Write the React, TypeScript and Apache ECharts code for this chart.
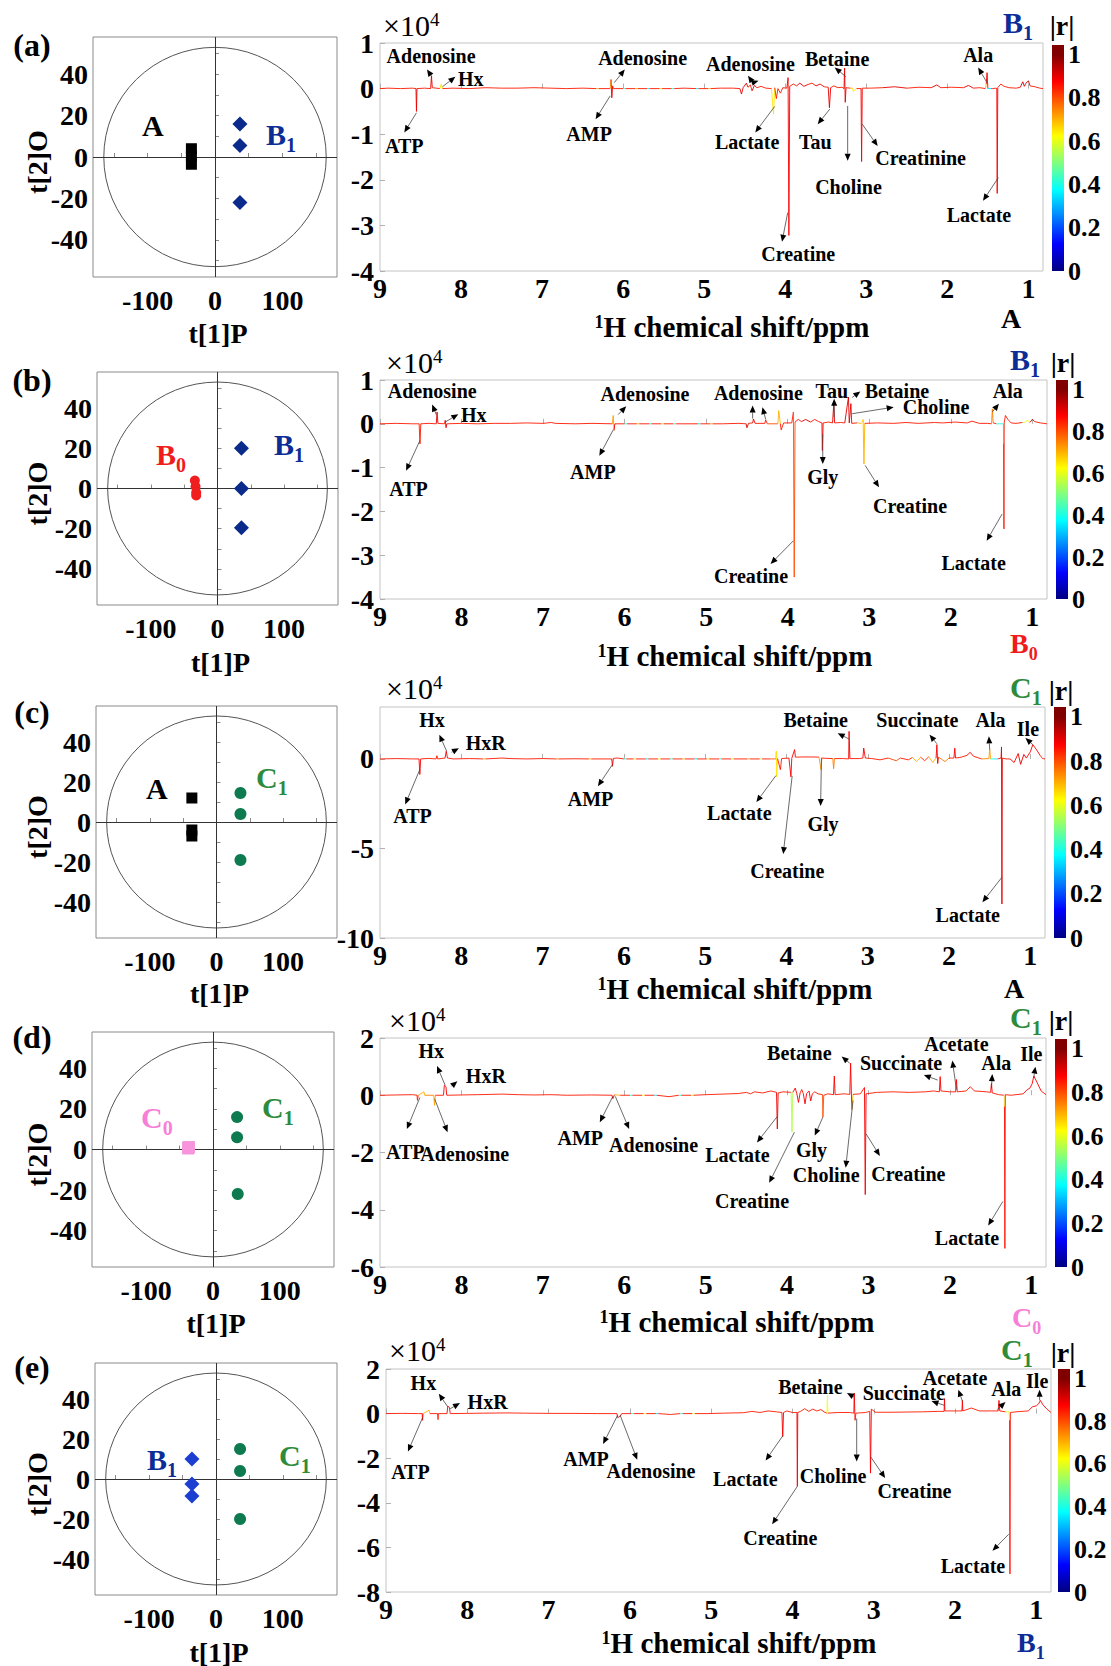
import React, { useEffect, useRef } from "react";
import * as echarts from "echarts";

const FONT = "'Liberation Serif', 'Times New Roman', Times, serif";

// ---------- colour map (jet) ----------
const JET_STOPS: [number, string][] = [
  [0, "#000080"], [0.125, "#0000ff"], [0.375, "#00ffff"], [0.625, "#ffff00"], [0.875, "#ff0000"], [1, "#800000"],
];
const CB_TICKS = [0, 0.2, 0.4, 0.6, 0.8, 1];
const CB_MAX = 1.045;

// ---------- score plots ----------
const SCORE_X = [-181, 181];
const SCORE_Y = [-58, 58];
const ELLIPSE_R = [165, 53];
const scoreXLabels = [-100, 0, 100];
const scoreXTicks = [-150, -100, -50, 0, 50, 100, 150];
const scoreYLabels = [-40, -20, 0, 20, 40];
const scoreYTicks = [-50, -40, -30, -20, -10, 0, 10, 20, 30, 40, 50];

const scoreA_a = [[-35, 4], [-35, 0.5], [-35, -3.5]];
const scoreB1_a = [[37, 16], [37, 5.5], [37, -22]];
const scoreB0_b = [[-34, 4], [-33, 1], [-32, -2], [-32, -3.5]];
const scoreB1_b = [[36, 20], [36, 0], [36, -19.5]];
const scoreA_c = [[-37, 12], [-37, -4], [-37, -7]];
const scoreC1_c = [[36, 14.5], [36, 4], [36, -19]];
const scoreC0_d = [[-37, 1], [-37, 0.5], [-36, 1.2]];
const scoreC1_d = [[36, 16], [36, 6], [37, -22]];
const scoreB1_e = [[-36, 10], [-36, -2.5], [-36, -8.5]];
const scoreC1_e = [[36, 15], [36, 4], [36, -20]];

// ---------- loading plots ----------
const LOAD_X = [0.82, 9];
const loadXTicks = [9, 8, 7, 6, 5, 4, 3, 2, 1];
const loadYRangeA = [-4, 1];
const loadYRangeB = [-4, 1];
const loadYRangeC = [-10, 2.9];
const loadYRangeD = [-6, 2];
const loadYRangeE = [-8, 2];
const loadYTicksA = [1, 0, -1, -2, -3, -4];
const loadYTicksB = [1, 0, -1, -2, -3, -4];
const loadYTicksC = [0, -5, -10];
const loadYTicksD = [2, 0, -2, -4, -6];
const loadYTicksE = [2, 0, -2, -4, -6, -8];

// [ppm, loading (x10^4), |r|]
const spectrumA = [
  [9.0, 0, .85], [8.9, 0.01, .85], [8.75, 0, .85], [8.6, 0.01, .85],
  [8.556, 0, .85], [8.55, -0.5, .9], [8.544, 0, .85],
  [8.45, 0.01, .85], [8.375, 0, .85], [8.365, 0.28, .9], [8.355, 0.02, .85],
  [8.26, 0, .8], [8.245, 0.1, .65], [8.23, 0, .8],
  [8.1, 0.01, .85], [7.9, 0, .85], [7.7, 0.02, .85], [7.5, 0.01, .85], [7.3, 0.01, .85], [7.1, 0.02, .85], [6.9, 0.01, .85], [6.7, 0, .85], [6.5, 0.01, .85], [6.33, 0, .85], [6.3, 0, .7],
  [6.16, 0, .85], [6.15, 0.2, .7], [6.14, -0.2, .9], [6.13, 0.06, .85], [6.12, 0, .85],
  [6.0, 0, .85], [5.97, 0, .4], [5.85, 0, .85], [5.82, 0, .7], [5.7, 0, .85], [5.67, 0, .35], [5.55, 0, .85], [5.52, 0, .65], [5.4, 0, .85], [5.37, 0, .4],
  [5.25, 0.01, .85], [5.1, 0, .85], [5.07, 0, .35], [4.95, 0, .85], [4.92, 0, .7], [4.8, 0.01, .85], [4.65, 0.01, .85],
  [4.56, 0, .85], [4.54, -0.12, .9], [4.52, 0.02, .85], [4.48, 0.12, .9], [4.46, 0.03, .85], [4.43, 0.08, .85], [4.41, -0.05, .85], [4.38, 0.07, .9], [4.35, 0.02, .85], [4.3, 0.05, .85], [4.24, 0.01, .85],
  [4.17, 0, .8], [4.145, -0.56, .65], [4.13, 0.02, .8], [4.11, -0.22, .85], [4.09, 0, .8], [4.06, -0.1, .85], [4.03, 0.02, .85], [3.98, 0.01, .85],
  [3.965, 0.24, .9], [3.955, -3.22, .88], [3.945, 0.05, .85],
  [3.9, 0.1, .85], [3.86, 0.06, .85], [3.82, 0.12, .9], [3.77, 0.05, .85], [3.72, 0.09, .9], [3.67, 0.12, .85], [3.62, 0.06, .85], [3.57, 0.1, .9], [3.52, 0.04, .85],
  [3.47, 0.03, .85], [3.455, -0.42, .9], [3.44, 0.02, .85], [3.4, 0.06, .85], [3.35, 0.02, .75], [3.3, 0.03, .85],
  [3.275, 0, .85], [3.268, 0.45, .9], [3.26, -0.3, .9], [3.25, 0.02, .85], [3.2, 0.01, .85], [3.17, 0.01, .7], [3.16, -0.06, .65], [3.12, 0, .85],
  [3.065, 0, .85], [3.058, -1.6, .88], [3.05, 0.01, .85],
  [2.95, 0.01, .85], [2.8, 0.02, .85], [2.65, 0.04, .9], [2.5, 0.01, .85], [2.35, 0.03, .85], [2.2, 0.02, .85], [2.13, 0.08, .9], [2.08, 0.02, .85], [1.95, 0.03, .85], [1.8, 0.02, .85], [1.74, 0.07, .9], [1.68, 0.01, .85], [1.6, 0.02, .85],
  [1.53, 0, .85], [1.52, 0.1, .7], [1.51, 0.35, .88], [1.5, 0, .5], [1.46, 0, .35], [1.44, 0, .85], [1.4, 0.01, .85],
  [1.39, 0, .85], [1.385, -2.3, .88], [1.378, 0.02, .85], [1.34, 0.1, .85], [1.3, 0.05, .85], [1.24, 0.02, .85], [1.15, 0.01, .85],
  [1.1, 0.03, .85], [1.07, 0.15, .92], [1.05, 0.05, .85], [1.03, 0.12, .9], [1.0, 0.17, .92], [0.98, 0.06, .85], [0.92, 0.04, .85], [0.86, 0.01, .85], [0.82, 0, .85],
];

const spectrumB = [
  [9.0, 0, .85], [8.8, 0.01, .85], [8.6, 0, .85],
  [8.52, 0, .85], [8.51, -0.46, .85], [8.5, 0, .85],
  [8.4, 0.01, .85], [8.31, 0, .85], [8.3, 0.27, .9], [8.29, 0.01, .85],
  [8.21, 0, .85], [8.2, 0.08, .85], [8.19, -0.09, .9], [8.18, 0, .85],
  [8.0, 0.01, .85], [7.8, 0, .85], [7.6, 0.01, .85], [7.4, 0.01, .85], [7.2, 0.02, .85], [7.0, 0.01, .85], [6.9, 0.03, .85], [6.85, 0.01, .85], [6.6, 0, .85], [6.4, 0.01, .85],
  [6.15, 0, .85], [6.14, 0.19, .72], [6.13, -0.15, .9], [6.12, 0, .85],
  [6.0, 0, .85], [5.97, 0, .4], [5.85, 0, .85], [5.82, 0, .7], [5.7, 0, .85], [5.67, 0, .35], [5.55, 0, .85], [5.52, 0, .65], [5.4, 0, .85], [5.37, 0, .4],
  [5.25, 0, .85], [5.1, 0, .85], [5.07, 0, .35], [4.95, 0, .85], [4.92, 0, .7], [4.8, 0, .85], [4.6, 0.01, .85],
  [4.51, 0, .85], [4.5, -0.09, .9], [4.48, 0.01, .85], [4.43, 0.02, .85], [4.42, 0.11, .9], [4.4, 0.01, .85], [4.28, 0.01, .85], [4.27, 0.09, .85], [4.25, 0, .85],
  [4.12, 0, .8], [4.11, 0.3, .7], [4.09, 0, .8], [4.08, -0.14, .85], [4.05, 0.02, .85], [3.95, 0.02, .85],
  [3.93, 0.27, .85], [3.92, -3.5, .8], [3.91, 0.04, .85],
  [3.87, 0.1, .85], [3.83, 0.05, .85], [3.78, 0.1, .9], [3.72, 0.04, .85], [3.67, 0.1, .85], [3.62, 0.05, .85], [3.58, 0.02, .85],
  [3.575, -0.61, .88], [3.565, 0.02, .85], [3.5, 0.04, .85], [3.45, 0.02, .85],
  [3.435, 0.46, .9], [3.425, 0.02, .85], [3.35, 0.03, .85], [3.3, 0.02, .85],
  [3.255, 0.61, .9], [3.245, 0.02, .85], [3.225, 0.46, .9], [3.215, 0.01, .85], [3.15, 0.02, .85], [3.13, 0.02, .7], [3.1, 0, .85],
  [3.075, 0.1, .65], [3.065, -0.92, .7], [3.055, 0.01, .85],
  [2.9, 0.02, .85], [2.7, 0.01, .85], [2.55, 0.03, .85], [2.4, 0.01, .85], [2.2, 0.03, .85], [2.1, 0.02, .85], [1.95, 0.04, .85], [1.8, 0.02, .85], [1.74, 0.06, .85], [1.65, 0.01, .85], [1.55, 0.01, .85],
  [1.5, 0, .85], [1.49, 0.34, .75], [1.48, 0.02, .85], [1.44, 0, .85], [1.4, 0, .4],
  [1.355, 0, .4], [1.352, -0.45, .4], [1.348, -2.4, .85], [1.345, 0.02, .85], [1.33, 0.19, .85], [1.3, 0.1, .85], [1.26, 0.02, .85], [1.2, 0.01, .85],
  [1.12, 0.03, .85], [1.1, 0.03, .55], [1.06, 0.08, .6], [1.03, 0.03, .85], [1.0, 0.1, .9], [0.97, 0.05, .85], [0.9, 0.02, .85], [0.82, 0, .85],
];

const spectrumC = [
  [9.0, 0, .85], [8.8, 0.02, .85], [8.6, 0, .85],
  [8.52, 0, .85], [8.51, -0.87, .88], [8.5, 0, .85],
  [8.4, 0.03, .85], [8.31, 0, .85], [8.3, 0.18, .85], [8.29, 0, .85],
  [8.2, 0.05, .85], [8.185, 0.43, .88], [8.17, 0.05, .85], [8.1, 0, .85],
  [7.9, 0.02, .85], [7.73, 0, .85], [7.7, 0, .7], [7.5, 0.05, .85], [7.4, 0.02, .85], [7.2, 0, .85], [7.0, 0.02, .85], [6.83, 0, .85], [6.8, 0, .75], [6.6, 0.01, .85], [6.43, 0, .85], [6.4, 0, .7],
  [6.15, 0, .85], [6.14, -0.41, .9], [6.13, 0.03, .85], [6.08, 0.05, .85],
  [6.0, 0, .85], [5.97, 0, .4], [5.88, 0, .85], [5.85, 0, .65], [5.73, 0, .85], [5.7, 0, .35], [5.58, 0, .85], [5.55, 0, .6], [5.43, 0, .85], [5.4, 0, .4],
  [5.28, 0, .85], [5.25, 0, .7], [5.13, 0, .85], [5.1, 0, .35], [4.98, 0, .85], [4.95, 0, .65], [4.83, 0, .85], [4.8, 0, .4], [4.68, 0, .85], [4.65, 0, .6],
  [4.48, 0, .85], [4.45, 0, .7], [4.33, 0, .85], [4.3, 0, .55], [4.2, 0, .85],
  [4.13, 0, .8], [4.125, 0.43, .7], [4.12, -1.0, .65], [4.11, 0.02, .8], [4.075, -0.6, .85], [4.06, 0.02, .85], [3.97, 0.05, .85],
  [3.945, -1.0, .88], [3.935, 0.03, .85], [3.9, 0.52, .88], [3.89, 0.1, .85],
  [3.8, 0.11, .85], [3.7, 0.11, .85], [3.6, 0.1, .85],
  [3.575, -0.6, .72], [3.565, 0.05, .85], [3.5, 0.03, .85], [3.43, 0.02, .85], [3.42, -0.55, .75], [3.41, 0.02, .85], [3.3, 0.02, .85],
  [3.235, 0, .85], [3.23, 1.54, .88], [3.22, 0.02, .85], [3.1, 0.02, .85],
  [3.06, 0.05, .85], [3.05, 0.61, .88], [3.03, 0.05, .85], [2.95, 0.02, .85],
  [2.85, -0.05, .85], [2.75, 0.05, .85], [2.65, -0.1, .8], [2.6, 0.05, .85], [2.5, -0.05, .85], [2.45, 0.08, .85], [2.4, -0.15, .7], [2.35, 0.1, .85], [2.3, -0.1, .85], [2.25, 0.12, .85], [2.2, -0.2, .7],
  [2.16, 0.05, .85], [2.15, 0.8, .88], [2.14, -0.26, .88], [2.13, 0.1, .85], [2.05, -0.15, .75], [2.0, 0.05, .85],
  [1.94, 0.05, .85], [1.93, 0.6, .88], [1.92, 0.05, .85], [1.85, 0.1, .85], [1.78, 0.2, .85], [1.74, 0.37, .88], [1.7, 0.15, .85], [1.6, 0, .85],
  [1.51, 0.02, .75], [1.5, 0.55, .72], [1.49, 0, .75], [1.45, 0, .4], [1.4, 0, .35],
  [1.36, 0.05, .85], [1.355, 0.67, .88], [1.35, -8.1, .9], [1.345, 0.05, .85], [1.3, 0, .4], [1.25, 0, .85],
  [1.2, -0.2, .88], [1.15, 0.3, .88], [1.12, -0.3, .9], [1.08, 0.25, .88], [1.05, 0.05, .9],
  [1.0, 0.4, .88], [0.97, 0.8, .88], [0.93, 0.55, .88], [0.88, 0.2, .85], [0.85, 0.02, .85], [0.82, 0, .85],
];

const spectrumD = [
  [9.0, 0, .85], [8.8, 0.01, .85], [8.6, 0.02, .85],
  [8.545, 0, .85], [8.54, -0.18, .85], [8.53, 0, .85], [8.46, 0.12, .7], [8.45, 0, .85],
  [8.34, 0, .75], [8.33, -0.35, .72], [8.32, 0, .85],
  [8.22, 0, .85], [8.21, 0.35, .88], [8.19, 0.3, .88], [8.18, 0, .85],
  [8.0, 0.01, .85], [7.8, 0.02, .85], [7.5, 0.04, .85], [7.3, 0.02, .85], [7.1, 0.01, .85], [6.9, 0.02, .85], [6.7, 0, .85], [6.4, 0.01, .85],
  [6.15, 0, .85], [6.14, -0.12, .88], [6.12, 0.02, .7], [6.05, 0, .85],
  [5.93, 0, .85], [5.9, 0, .4], [5.78, 0, .85], [5.75, 0, .6], [5.63, 0, .85], [5.6, 0, .35], [5.45, -0.05, .85], [5.33, 0, .85], [5.3, 0, .4], [5.18, 0, .85], [5.15, 0, .65],
  [5.0, 0.02, .85], [4.8, 0.04, .85], [4.6, 0.06, .85],
  [4.5, 0.1, .85], [4.45, 0.05, .85], [4.4, 0.12, .85], [4.3, 0.08, .85], [4.2, 0.15, .85],
  [4.13, 0.1, .85], [4.12, -1.18, .88], [4.11, 0.08, .85], [4.05, 0.12, .85],
  [3.95, 0.1, .6], [3.94, -1.29, .55], [3.93, 0.1, .85],
  [3.9, 0.25, .88], [3.88, 0.05, .85], [3.86, -0.25, .88], [3.84, 0.08, .85], [3.82, 0.2, .85], [3.8, 0.05, .85], [3.78, -0.3, .88], [3.76, 0.06, .85],
  [3.73, 0.15, .85], [3.71, -0.2, .88], [3.69, 0.05, .85], [3.66, 0.12, .85], [3.62, 0.05, .85],
  [3.565, 0.02, .85], [3.56, -0.76, .8], [3.55, 0, .85], [3.5, 0.05, .85],
  [3.43, 0.02, .85], [3.42, 0.67, .88], [3.41, 0.02, .85], [3.3, 0.05, .85],
  [3.23, 0.03, .85], [3.22, 1.12, .88], [3.205, -0.5, .7], [3.19, 0.03, .85], [3.1, 0.05, .85],
  [3.05, 0.27, .85], [3.04, -3.47, .88], [3.03, 0.05, .85],
  [2.9, 0.1, .85], [2.7, 0.12, .85], [2.5, 0.1, .85], [2.3, 0.12, .85], [2.2, 0.15, .85],
  [2.13, 0.12, .85], [2.12, 0.65, .88], [2.11, 0.15, .85], [2.0, 0.12, .85],
  [1.93, 0.12, .85], [1.92, 0.55, .88], [1.91, 0.12, .85], [1.8, 0.15, .85], [1.75, 0.3, .85], [1.7, 0.15, .85], [1.55, 0.12, .85],
  [1.5, 0.1, .85], [1.49, 0.41, .88], [1.48, 0.08, .85], [1.4, 0.02, .85],
  [1.335, 0, .6], [1.33, -0.4, .6], [1.325, -5.35, .86], [1.32, 0.02, .85], [1.25, 0, .85], [1.1, 0.05, .85],
  [1.05, 0.2, .88], [1.02, 0.24, .88], [0.99, 0.4, .88], [0.97, 0.67, .88], [0.93, 0.45, .88], [0.88, 0.15, .85], [0.82, 0.02, .85],
];

const spectrumE = [
  [9.0, 0, .85], [8.8, 0.01, .85], [8.6, 0, .85],
  [8.555, 0, .85], [8.55, -0.3, .88], [8.545, 0, .85], [8.47, 0.15, .7], [8.46, 0, .85],
  [8.365, 0, .85], [8.36, -0.27, .85], [8.355, 0, .85],
  [8.25, 0, .85], [8.24, 0.33, .88], [8.22, 0.28, .88], [8.21, 0, .85],
  [8.0, 0.01, .85], [7.8, 0.02, .85], [7.5, 0.03, .85], [7.3, 0.02, .85], [7.0, 0.01, .85], [6.7, 0.01, .85], [6.4, 0, .85],
  [6.16, 0, .85], [6.15, -0.18, .88], [6.12, -0.12, .88], [6.1, 0, .85],
  [5.98, 0, .85], [5.95, 0, .4], [5.83, 0, .85], [5.8, 0, .6], [5.68, 0, .85], [5.65, 0, .35], [5.5, -0.04, .85], [5.38, 0, .85], [5.35, 0, .4], [5.23, 0, .85], [5.2, 0, .6],
  [5.05, 0, .85], [4.85, 0.02, .85], [4.6, 0.04, .85],
  [4.5, 0.1, .85], [4.4, 0.05, .85], [4.3, 0.12, .85], [4.2, 0.08, .85],
  [4.13, 0.05, .85], [4.12, -1.04, .88], [4.11, 0.05, .85], [4.07, 0.12, .85], [4.0, 0.05, .85],
  [3.945, 0.05, .85], [3.94, -3.26, .88], [3.935, 0.05, .85],
  [3.9, 0.1, .85], [3.85, 0.22, .85], [3.8, 0.1, .85], [3.75, 0.2, .85], [3.7, 0.12, .85], [3.65, 0.18, .85], [3.6, 0.05, .85],
  [3.575, 0.02, .65], [3.57, 0.81, .62], [3.565, 0.02, .65], [3.45, 0.05, .85], [3.3, 0.05, .85],
  [3.245, 0.02, .85], [3.24, 0.92, .88], [3.23, -0.3, .85], [3.22, 0.02, .85], [3.1, 0.05, .85],
  [3.05, 0.1, .85], [3.04, -2.67, .88], [3.03, 0.2, .85], [2.98, 0.06, .85],
  [2.8, 0.06, .85], [2.6, 0.07, .85], [2.4, 0.08, .85], [2.2, 0.1, .85],
  [2.135, 0.1, .85], [2.13, 0.67, .88], [2.125, 0.12, .85], [2.0, 0.12, .85],
  [1.915, 0.12, .85], [1.91, 0.59, .88], [1.905, 0.12, .85], [1.8, 0.25, .85], [1.7, 0.12, .85], [1.55, 0.12, .85],
  [1.47, 0.12, .85], [1.46, 0.59, .88], [1.45, 0.12, .85], [1.38, 0.08, .85],
  [1.335, 0.08, .6], [1.33, -0.3, .6], [1.325, -7.19, .86], [1.32, 0.05, .85], [1.25, 0.08, .85], [1.1, 0.12, .85],
  [1.05, 0.3, .88], [1.0, 0.35, .88], [0.97, 0.45, .88], [0.95, 0.59, .88], [0.92, 0.4, .88], [0.87, 0.2, .85], [0.82, 0.05, .85],
];

// annotations: [text, labelPpm, labelVal, arrowFromPpm, arrowFromVal, arrowToPpm, arrowToVal]
const annotationsA = [
  ["Adenosine", 8.37, 0.72, 8.36, 0.26, 8.42, 0.42],
  ["Hx", 7.88, 0.2, 8.23, 0.04, 8.07, 0.26],
  ["ATP", 8.70, -1.26, 8.55, -0.53, 8.70, -0.96],
  ["Adenosine", 5.76, 0.68, 6.11, 0.13, 5.98, 0.42],
  ["AMP", 6.42, -1.0, 6.16, -0.16, 6.34, -0.67],
  ["Adenosine", 4.43, 0.55, 4.40, 0.13, 4.46, 0.28],
  ["", 0, 0, 4.40, 0.13, 4.33, 0.17],
  ["Betaine", 3.36, 0.66, 3.25, 0.26, 3.39, 0.46],
  ["Ala", 1.62, 0.73, 1.51, 0.13, 1.62, 0.46],
  ["Lactate", 4.47, -1.18, 4.13, -0.39, 4.37, -0.96],
  ["Tau", 3.63, -1.18, 3.45, -0.45, 3.60, -0.78],
  ["Creatinine", 2.33, -1.53, 3.05, -0.78, 2.86, -1.26],
  ["Choline", 3.22, -2.15, 3.23, -0.38, 3.23, -1.58],
  ["Creatine", 3.84, -3.63, 3.97, -2.72, 4.04, -3.36],
  ["Lactate", 1.61, -2.77, 1.37, -1.95, 1.56, -2.46],
];
const annotationsB = [
  ["Adenosine", 8.36, 0.74, 8.31, 0.21, 8.36, 0.44],
  ["Hx", 7.85, 0.2, 8.2, 0.04, 8.04, 0.22],
  ["ATP", 8.65, -1.49, 8.51, -0.38, 8.68, -1.07],
  ["Adenosine", 5.75, 0.69, 6.08, 0.21, 5.98, 0.40],
  ["AMP", 6.39, -1.11, 6.14, -0.14, 6.31, -0.73],
  ["Adenosine", 4.36, 0.70, 4.43, 0.12, 4.43, 0.42],
  ["", 0, 0, 4.27, 0.1, 4.31, 0.38],
  ["Tau", 3.46, 0.76, 3.43, 0.15, 3.43, 0.57],
  ["Betaine", 2.66, 0.76, 3.21, 0.6, 3.11, 0.74],
  ["Choline", 2.18, 0.38, 3.21, 0.23, 2.70, 0.38],
  ["Ala", 1.30, 0.76, 1.49, 0.27, 1.41, 0.46],
  ["Gly", 3.57, -1.22, 3.57, -0.23, 3.57, -0.92],
  ["Creatine", 2.50, -1.87, 3.05, -0.95, 2.88, -1.45],
  ["Creatine", 4.45, -3.47, 3.93, -2.67, 4.21, -3.2],
  ["Lactate", 1.72, -3.17, 1.37, -2.06, 1.56, -2.67],
];
const annotationsC = [
  ["Hx", 8.36, 2.19, 8.18, 0.43, 8.27, 1.35],
  ["HxR", 7.7, 0.89, 8.12, 0.37, 8.03, 0.6],
  ["ATP", 8.6, -3.19, 8.51, -0.59, 8.69, -2.54],
  ["AMP", 6.41, -2.26, 6.14, -0.31, 6.32, -1.52],
  ["Lactate", 4.58, -3.0, 4.13, -0.93, 4.37, -2.41],
  ["Creatine", 3.99, -6.24, 3.93, -0.96, 4.04, -5.31],
  ["Gly", 3.55, -3.65, 3.57, 0.06, 3.58, -2.63],
  ["Betaine", 3.64, 2.19, 3.23, 1.11, 3.37, 1.44],
  ["Succinate", 2.39, 2.19, 2.15, 0.85, 2.24, 1.35],
  ["Ala", 1.49, 2.19, 1.50, 0.52, 1.51, 1.26],
  ["Ile", 1.03, 1.67, 0.97, 0.8, 1.06, 1.17],
  ["Lactate", 1.77, -8.74, 1.35, -6.61, 1.59, -8.0],
];
const annotationsD = [
  ["Hx", 8.37, 1.53, 8.2, 0.35, 8.3, 1.02],
  ["HxR", 7.7, 0.67, 8.12, 0.32, 8.05, 0.49],
  ["ATP", 8.69, -1.98, 8.51, -0.08, 8.67, -1.18],
  ["Adenosine", 7.96, -2.04, 8.33, -0.12, 8.17, -1.29],
  ["AMP", 6.54, -1.49, 6.14, -0.04, 6.30, -0.94],
  ["Adenosine", 5.64, -1.73, 6.11, -0.04, 5.94, -1.18],
  ["Lactate", 4.61, -2.08, 4.12, -0.74, 4.37, -1.65],
  ["Creatine", 4.43, -3.68, 3.91, -1.29, 4.22, -3.06],
  ["Gly", 3.70, -1.92, 3.56, -0.76, 3.66, -1.41],
  ["Choline", 3.52, -2.79, 3.19, -0.18, 3.28, -2.53],
  ["Creatine", 2.51, -2.76, 3.03, -1.35, 2.86, -2.12],
  ["Betaine", 3.85, 1.49, 3.23, 1.12, 3.33, 1.35],
  ["Succinate", 2.60, 1.12, 2.15, 0.53, 2.32, 0.71],
  ["Acetate", 1.92, 1.8, 1.92, 0.2, 1.97, 1.21],
  ["Ala", 1.43, 1.14, 1.49, 0.24, 1.48, 0.74],
  ["Ile", 1.0, 1.45, 0.97, 0.62, 0.95, 1.0],
  ["Lactate", 1.79, -5.0, 1.35, -3.71, 1.53, -4.55],
];
const annotationsE = [
  ["Hx", 8.54, 1.36, 8.24, 0.30, 8.35, 0.89],
  ["HxR", 7.75, 0.52, 8.21, 0.22, 8.09, 0.47],
  ["ATP", 8.70, -2.64, 8.55, -0.18, 8.73, -1.70],
  ["AMP", 6.54, -2.04, 6.15, -0.07, 6.33, -1.36],
  ["Adenosine", 5.74, -2.59, 6.12, -0.07, 5.91, -2.07],
  ["Lactate", 4.58, -2.93, 4.12, -1.0, 4.33, -2.1],
  ["Creatine", 4.15, -5.6, 3.94, -3.26, 4.25, -4.96],
  ["Choline", 3.5, -2.79, 3.21, -0.22, 3.21, -2.15],
  ["Creatine", 2.5, -3.48, 3.04, -1.93, 2.86, -2.89],
  ["Betaine", 3.78, 1.21, 3.24, 0.74, 3.33, 0.92],
  ["Succinate", 2.63, 0.92, 2.13, 0.37, 2.29, 0.56],
  ["Acetate", 2.0, 1.6, 1.91, 0.56, 1.96, 1.07],
  ["Ala", 1.37, 1.11, 1.48, 0.18, 1.38, 0.52],
  ["Ile", 0.99, 1.48, 0.96, 0.59, 0.96, 1.07],
  ["Lactate", 1.78, -6.84, 1.34, -5.41, 1.54, -6.15],
];

// ---------- styling ----------
const COL = { A: "#000000", B1: "#0c2c96", B0: "#f01c1c", C1: "#2e8b3c", C0: "#f77fd8" };
const MARK = { A: "#000000", B1: "#0a2a8c", B1e: "#1c3fd2", B0: "#f01e1e", C1: "#0d7a50", C0: "#f794dc" };

const ROWS = [
  {
    letter: "(a)", letterY: 45,
    score: { left: 93, top: 37, width: 244, height: 240 },
    load: { left: 380, top: 43, width: 663, height: 228 },
    cb: { left: 1052, top: 45, width: 12, height: 226 },
    groups: [
      { data: scoreA_a, symbol: "rect", size: 11, color: MARK.A },
      { data: scoreB1_a, symbol: "diamond", size: 15, color: MARK.B1 },
    ],
    scoreLabels: [[142, 125, "A", "", COL.A], [266, 137, "B", "1", COL.B1]],
    spectrum: spectrumA, ann: annotationsA, yRange: loadYRangeA, yTicks: loadYTicksA,
    x10: [383, 25], topLabel: [1003, 25, "B", "1", COL.B1], rX: 1062,
    bottomLabel: [1001, 318, "A", "", COL.A], ppmName: [732, 327], t1Y: 333,
  },
  {
    letter: "(b)", letterY: 380,
    score: { left: 97, top: 372, width: 241, height: 233 },
    load: { left: 380, top: 380, width: 667, height: 219 },
    cb: { left: 1056, top: 380, width: 12, height: 219 },
    groups: [
      { data: scoreB0_b, symbol: "circle", size: 10, color: MARK.B0 },
      { data: scoreB1_b, symbol: "diamond", size: 15, color: MARK.B1 },
    ],
    scoreLabels: [[156, 457, "B", "0", COL.B0], [274, 447, "B", "1", COL.B1]],
    spectrum: spectrumB, ann: annotationsB, yRange: loadYRangeB, yTicks: loadYTicksB,
    x10: [386, 362], topLabel: [1010, 362, "B", "1", COL.B1], rX: 1063,
    bottomLabel: [1010, 646, "B", "0", COL.B0], ppmName: [735, 656], t1Y: 662,
  },
  {
    letter: "(c)", letterY: 712,
    score: { left: 96, top: 706, width: 241, height: 232 },
    load: { left: 380, top: 707, width: 665, height: 231 },
    cb: { left: 1054, top: 707, width: 12, height: 231 },
    groups: [
      { data: scoreA_c, symbol: "rect", size: 11, color: MARK.A },
      { data: scoreC1_c, symbol: "circle", size: 12, color: MARK.C1 },
    ],
    scoreLabels: [[146, 788, "A", "", COL.A], [256, 780, "C", "1", COL.C1]],
    spectrum: spectrumC, ann: annotationsC, yRange: loadYRangeC, yTicks: loadYTicksC,
    x10: [386, 688], topLabel: [1010, 690, "C", "1", COL.C1], rX: 1061,
    bottomLabel: [1004, 988, "A", "", COL.A], ppmName: [735, 989], t1Y: 993,
  },
  {
    letter: "(d)", letterY: 1037,
    score: { left: 92, top: 1032, width: 242, height: 235 },
    load: { left: 380, top: 1038, width: 666, height: 229 },
    cb: { left: 1055, top: 1039, width: 12, height: 228 },
    groups: [
      { data: scoreC0_d, symbol: "rect", size: 12, color: MARK.C0 },
      { data: scoreC1_d, symbol: "circle", size: 12, color: MARK.C1 },
    ],
    scoreLabels: [[141, 1120, "C", "0", COL.C0], [262, 1110, "C", "1", COL.C1]],
    spectrum: spectrumD, ann: annotationsD, yRange: loadYRangeD, yTicks: loadYTicksD,
    x10: [389, 1020], topLabel: [1010, 1020, "C", "1", COL.C1], rX: 1061,
    bottomLabel: [1012, 1320, "C", "0", COL.C0], ppmName: [737, 1322], t1Y: 1323,
  },
  {
    letter: "(e)", letterY: 1367,
    score: { left: 95, top: 1363, width: 242, height: 232 },
    load: { left: 386, top: 1369, width: 665, height: 223 },
    cb: { left: 1058, top: 1369, width: 12, height: 223 },
    groups: [
      { data: scoreB1_e, symbol: "diamond", size: 15, color: MARK.B1e },
      { data: scoreC1_e, symbol: "circle", size: 12, color: MARK.C1 },
    ],
    scoreLabels: [[147, 1462, "B", "1", COL.B1], [279, 1458, "C", "1", COL.C1]],
    spectrum: spectrumE, ann: annotationsE, yRange: loadYRangeE, yTicks: loadYTicksE,
    x10: [389, 1350], topLabel: [1001, 1352, "C", "1", COL.C1], rX: 1063,
    bottomLabel: [1017, 1645, "B", "1", COL.B1], ppmName: [739, 1643], t1Y: 1652,
  },
];

// ---------- helpers ----------
function hexToRgb(h: string) {
  return [parseInt(h.slice(1, 3), 16), parseInt(h.slice(3, 5), 16), parseInt(h.slice(5, 7), 16)];
}
function jet(r: number): string {
  const s = JET_STOPS;
  if (r <= s[0][0]) return s[0][1];
  for (let i = 1; i < s.length; i++) {
    if (r <= s[i][0]) {
      const t = (r - s[i - 1][0]) / (s[i][0] - s[i - 1][0]);
      const a = hexToRgb(s[i - 1][1]);
      const b = hexToRgb(s[i][1]);
      const c = a.map((v, k) => Math.round(v + (b[k] - v) * t));
      return `rgb(${c[0]},${c[1]},${c[2]})`;
    }
  }
  return s[s.length - 1][1];
}
function toSegments(pts: number[][]) {
  const out: number[][] = [];
  for (let i = 0; i < pts.length - 1; i++) {
    const p = pts[i];
    const q = pts[i + 1];
    const r = Math.abs(q[1]) >= Math.abs(p[1]) ? q[2] : p[2];
    out.push([p[0], p[1], q[0], q[1], r]);
  }
  return out;
}

const boldLabel = (size: number) => ({
  fontFamily: FONT, fontWeight: "bold" as const, fontSize: size, color: "#000",
});

function subText(x: number, y: number, main: string, sub: string, color: string, size = 30) {
  if (!sub) return plainText(x, y, main, size, 0, "left", color);
  const ss = Math.round(size * 0.66);
  return {
    type: "text", x, y, silent: true,
    style: {
      text: `{m|${main}}{s|${sub}}`,
      rich: {
        m: { fontSize: size, fontWeight: "bold", fontFamily: FONT, fill: color, lineHeight: size + 6, verticalAlign: "top" },
        s: { fontSize: ss, fontWeight: "bold", fontFamily: FONT, fill: color, lineHeight: ss, verticalAlign: "bottom" },
      },
      align: "left", textAlign: "left", verticalAlign: "middle", textVerticalAlign: "middle",
    },
  };
}
function supText(x: number, y: number, pre: string, sup: string, post: string, size: number, align: string) {
  const ss = Math.round(size * 0.62);
  let t = "";
  if (pre) t += `{m|${pre}}`;
  t += `{p|${sup}}`;
  if (post) t += `{m|${post}}`;
  return {
    type: "text", x, y, silent: true,
    style: {
      text: t,
      rich: {
        m: { fontSize: size, fontWeight: pre ? "normal" : "bold", fontFamily: FONT, fill: "#000", lineHeight: size, verticalAlign: "bottom" },
        p: { fontSize: ss, fontWeight: pre ? "normal" : "bold", fontFamily: FONT, fill: "#000", lineHeight: ss, verticalAlign: "top" },
      },
      align, textAlign: align, verticalAlign: "middle", textVerticalAlign: "middle",
    },
  };
}
function plainText(x: number, y: number, text: string, size: number, rotation = 0, align = "center", color = "#000") {
  return {
    type: "text", x, y, rotation, silent: true,
    style: {
      text, fill: color, fontSize: size, fontWeight: "bold", fontFamily: FONT,
      align, textAlign: align, verticalAlign: "middle", textVerticalAlign: "middle",
    },
  };
}

function buildOption() {
  const grid: any[] = [];
  const xAxis: any[] = [];
  const yAxis: any[] = [];
  const series: any[] = [];
  const graphics: any[] = [];

  ROWS.forEach((row, i) => {
    const gS = i * 3, gL = i * 3 + 1, gC = i * 3 + 2;

    // ----- score plot -----
    grid.push({ ...row.score, show: true, borderColor: "#8a8a8a", borderWidth: 1, backgroundColor: "transparent" });
    xAxis.push({
      type: "value", gridIndex: gS, min: SCORE_X[0], max: SCORE_X[1],
      axisLine: { show: false }, splitLine: { show: false },
      axisTick: { show: true, inside: true, length: 4, customValues: scoreXTicks, lineStyle: { color: "#8a8a8a" } },
      axisLabel: { ...boldLabel(28), margin: 9, customValues: scoreXLabels },
    });
    yAxis.push({
      type: "value", gridIndex: gS, min: SCORE_Y[0], max: SCORE_Y[1],
      axisLine: { show: false }, splitLine: { show: false },
      axisTick: { show: true, inside: true, length: 4, customValues: scoreYTicks, lineStyle: { color: "#8a8a8a" } },
      axisLabel: { ...boldLabel(28), margin: 5, customValues: scoreYLabels },
    });
    series.push({
      type: "custom", coordinateSystem: "cartesian2d", xAxisIndex: gS, yAxisIndex: gS, silent: true, z: 2,
      data: [[0, 0, ELLIPSE_R[0], ELLIPSE_R[1]]],
      renderItem: (params: any, api: any) => {
        const c = api.coord([api.value(0), api.value(1)]);
        const s = api.size([api.value(2), api.value(3)]);
        const rx = s[0], ry = s[1];
        return {
          type: "path",
          shape: { pathData: `M${c[0] - rx} ${c[1]}A${rx} ${ry} 0 1 0 ${c[0] + rx} ${c[1]}A${rx} ${ry} 0 1 0 ${c[0] - rx} ${c[1]}Z` },
          style: { fill: "none", stroke: "#555", lineWidth: 1 },
        };
      },
      markLine: {
        silent: true, symbol: ["none", "none"], label: { show: false },
        lineStyle: { color: "#333", width: 1, type: "solid" },
        data: [{ xAxis: 0 }, { yAxis: 0 }],
      },
    });
    row.groups.forEach((g) => {
      series.push({
        type: "scatter", xAxisIndex: gS, yAxisIndex: gS, data: g.data, symbol: g.symbol, symbolSize: g.size,
        itemStyle: { color: g.color, opacity: 1 }, z: 5, silent: true,
      });
    });

    // ----- loading plot -----
    grid.push({ ...row.load, show: true, borderColor: "#c4c4c4", borderWidth: 1, backgroundColor: "transparent" });
    xAxis.push({
      type: "value", gridIndex: gL, min: LOAD_X[0], max: LOAD_X[1], inverse: true,
      axisLine: { show: false }, splitLine: { show: false },
      axisTick: { show: true, inside: true, length: 5, customValues: loadXTicks, lineStyle: { color: "#b0b0b0" } },
      axisLabel: { ...boldLabel(28), margin: 3, customValues: loadXTicks },
    });
    yAxis.push({
      type: "value", gridIndex: gL, min: row.yRange[0], max: row.yRange[1],
      axisLine: { show: false }, splitLine: { show: false },
      axisTick: { show: true, inside: true, length: 5, customValues: row.yTicks, lineStyle: { color: "#b0b0b0" } },
      axisLabel: { ...boldLabel(28), margin: 6, customValues: row.yTicks },
    });
    series.push({
      type: "custom", coordinateSystem: "cartesian2d", xAxisIndex: gL, yAxisIndex: gL, silent: true, clip: true, z: 3,
      data: toSegments(row.spectrum),
      encode: { x: [0, 2], y: [1, 3] },
      renderItem: (params: any, api: any) => {
        const a = api.coord([api.value(0), api.value(1)]);
        const b = api.coord([api.value(2), api.value(3)]);
        return {
          type: "line",
          shape: { x1: a[0], y1: a[1], x2: b[0], y2: b[1] },
          style: { stroke: jet(api.value(4)), lineWidth: 1, opacity: 0.9 },
        };
      },
    });
    const ann = row.ann;
    series.push({
      type: "custom", coordinateSystem: "cartesian2d", xAxisIndex: gL, yAxisIndex: gL, silent: true, clip: false, z: 4,
      data: ann.map((a: any) => [a[3], a[4], a[5], a[6], a[1], a[2]]),
      renderItem: (params: any, api: any) => {
        const a: any = ann[params.dataIndex];
        const F = api.coord([api.value(0), api.value(1)]);
        const T = api.coord([api.value(2), api.value(3)]);
        const ang = Math.atan2(T[1] - F[1], T[0] - F[0]);
        const hl = 7, hw = 3;
        const bx = T[0] - hl * Math.cos(ang), by = T[1] - hl * Math.sin(ang);
        const p1 = [bx + hw * Math.sin(ang), by - hw * Math.cos(ang)];
        const p2 = [bx - hw * Math.sin(ang), by + hw * Math.cos(ang)];
        const children: any[] = [
          { type: "line", shape: { x1: F[0], y1: F[1], x2: bx, y2: by }, style: { stroke: "#444", lineWidth: 0.8 } },
          { type: "polygon", shape: { points: [T, p1, p2] }, style: { fill: "#000" } },
        ];
        if (a[0]) {
          const L = api.coord([api.value(4), api.value(5)]);
          children.push({
            type: "text", x: L[0], y: L[1],
            style: {
              text: a[0], fill: "#000", fontSize: 20, fontWeight: "bold", fontFamily: FONT,
              align: "center", textAlign: "center", verticalAlign: "middle", textVerticalAlign: "middle",
            },
          });
        }
        return { type: "group", children };
      },
    });

    // ----- colour bar -----
    grid.push({ ...row.cb, show: false });
    xAxis.push({ type: "value", gridIndex: gC, min: 0, max: 1, show: false });
    yAxis.push({
      type: "value", gridIndex: gC, min: 0, max: CB_MAX, position: "right",
      axisLine: { show: false }, splitLine: { show: false }, axisTick: { show: false },
      axisLabel: {
        ...boldLabel(26), margin: 4, customValues: CB_TICKS,
        formatter: (v: number) => (v === 0 || v === 1 ? String(v) : v.toFixed(1)),
      },
    });
    series.push({
      type: "custom", coordinateSystem: "cartesian2d", xAxisIndex: gC, yAxisIndex: gC, silent: true,
      data: [[0, 0]],
      renderItem: (params: any) => {
        const cs = params.coordSys;
        return {
          type: "rect",
          shape: { x: cs.x, y: cs.y, width: cs.width, height: cs.height },
          style: {
            fill: new echarts.graphic.LinearGradient(0, 1, 0, 0,
              JET_STOPS.map((s) => ({ offset: Math.min(1, s[0] / CB_MAX), color: s[1] })).concat([{ offset: 1, color: "#800000" }])),
          },
        };
      },
    });

    // ----- texts -----
    graphics.push(plainText(32, row.letterY, row.letter, 32));
    const sc = row.score;
    graphics.push(plainText(sc.left + sc.width / 2 + 3, row.t1Y, "t[1]P", 28));
    graphics.push(plainText(37, sc.top + sc.height / 2 + 5, "t[2]O", 28, Math.PI / 2));
    row.scoreLabels.forEach((l: any) => graphics.push(subText(l[0], l[1], l[2], l[3], l[4], 30)));
    graphics.push(supText(row.x10[0], row.x10[1], "×10", "4", "", 30, "left"));
    const tl: any = row.topLabel;
    graphics.push(subText(tl[0], tl[1], tl[2], tl[3], tl[4], 30));
    graphics.push(plainText(row.rX, tl[1], "|r|", 28));
    const bl: any = row.bottomLabel;
    graphics.push(subText(bl[0], bl[1], bl[2], bl[3], bl[4], 28));
    graphics.push(supText(row.ppmName[0], row.ppmName[1], "", "1", "H chemical shift/ppm", 29, "center"));
  });

  return {
    animation: false,
    backgroundColor: "#ffffff",
    grid, xAxis, yAxis, series,
    graphic: { elements: graphics },
  };
}

export default function App() {
  const ref = useRef<HTMLDivElement>(null);
  useEffect(() => {
    document.body.style.margin = "0";
    if (!ref.current) return;
    const chart = echarts.init(ref.current, null, { renderer: "svg" });
    chart.setOption(buildOption() as any);
    return () => chart.dispose();
  }, []);
  return <div ref={ref} style={{ width: 1111, height: 1666, background: "#fff" }} />;
}
